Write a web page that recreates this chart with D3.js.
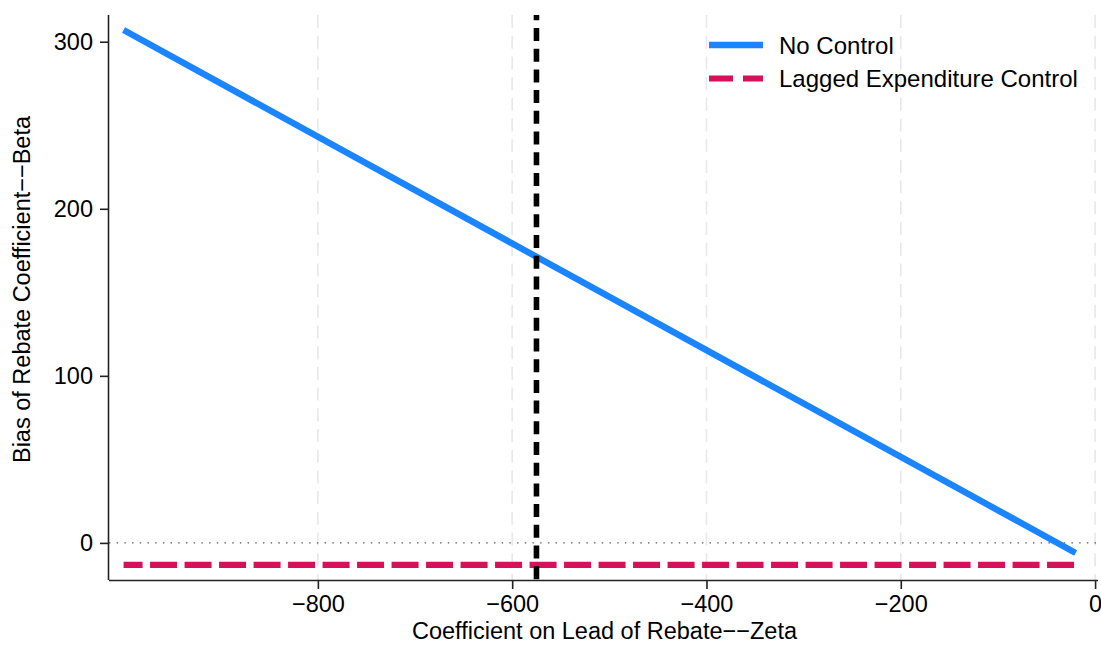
<!DOCTYPE html>
<html>
<head>
<meta charset="utf-8">
<script src="https://cdn.jsdelivr.net/npm/d3@7/dist/d3.min.js"></script>
<style>
  html, body { margin: 0; padding: 0; background: #fff; }
  svg { display: block; font-family: "Liberation Sans", Arial, Helvetica, sans-serif; }
</style>
</head>
<body>
<svg id="chart" width="1101" height="647"></svg>
<script>
// ---- data ----
const zeta = [-1000, -20];
const noControl = [307, -6];
const laggedControl = [-13.2, -13.2];
const zetaMark = -575;
const xTicks = [-800, -600, -400, -200, 0];
const yTicks = [0, 100, 200, 300];
const seriesNames = ["No Control", "Lagged Expenditure Control"];
const xTitle = "Coefficient on Lead of Rebate\u2212\u2212Zeta";
const yTitle = "Bias of Rebate Coefficient\u2212\u2212Beta";

// ---- layout ----
const svg = d3.select("#chart");
const pLeft = 109, pRight = 1098, pTop = 15, pBottom = 580;
const x = d3.scaleLinear().domain([-1015, 3]).range([pLeft, pRight]);
const y = d3.scaleLinear().domain([-22.2, 316]).range([pBottom, pTop]);
const fs = 23.5;
const fmt = d => d < 0 ? "\u2212" + Math.abs(d) : String(d);

// gridlines
svg.append("g").selectAll("line").data(xTicks).join("line")
  .attr("x1", d => x(d)).attr("x2", d => x(d))
  .attr("y1", pTop).attr("y2", pBottom)
  .attr("stroke", "#e8e8e8").attr("stroke-width", 1.6)
  .attr("stroke-dasharray", "13,7.7");

// y = 0 dotted line
svg.append("line")
  .attr("x1", pLeft).attr("x2", pRight)
  .attr("y1", y(0)).attr("y2", y(0))
  .attr("stroke", "#555").attr("stroke-width", 1.4)
  .attr("stroke-dasharray", "1.4,6.3");

// axes
const xAxis = d3.axisBottom(x).tickValues(xTicks).tickFormat(fmt).tickSize(9).tickPadding(6);
const gx = svg.append("g").attr("transform", `translate(0,${pBottom})`).call(xAxis);
gx.select(".domain").attr("d", `M${pLeft},0.5H${pRight}`).attr("stroke", "#222").attr("stroke-width", 1.6);
gx.selectAll(".tick line").attr("stroke", "#222").attr("stroke-width", 1.6);
gx.selectAll(".tick text").attr("font-size", fs).attr("fill", "#000")
  .attr("font-family", "'Liberation Sans', Arial, sans-serif");

const yAxis = d3.axisLeft(y).tickValues(yTicks).tickFormat(fmt).tickSize(9).tickPadding(7);
const gy = svg.append("g").attr("transform", `translate(${pLeft},0)`).call(yAxis);
gy.select(".domain").attr("d", `M-0.5,${pTop}V${pBottom}`).attr("stroke", "#222").attr("stroke-width", 1.6);
gy.selectAll(".tick line").attr("stroke", "#222").attr("stroke-width", 1.6);
gy.selectAll(".tick text").attr("font-size", fs).attr("fill", "#000")
  .attr("font-family", "'Liberation Sans', Arial, sans-serif");

// series lines
const seriesLine = d3.line().x((d, i) => x(zeta[i])).y(d => y(d));
svg.append("path").datum(laggedControl)
  .attr("d", seriesLine).attr("fill", "none")
  .attr("stroke", "#D41159").attr("stroke-width", 6.2)
  .attr("stroke-dasharray", "27,7.5").attr("stroke-dashoffset", 8);
svg.append("path").datum(noControl)
  .attr("d", seriesLine).attr("fill", "none")
  .attr("stroke", "#1A85FF").attr("stroke-width", 6.4);

// vertical reference line
svg.append("line")
  .attr("x1", x(zetaMark)).attr("x2", x(zetaMark))
  .attr("y1", pTop).attr("y2", pBottom)
  .attr("stroke", "#000").attr("stroke-width", 5.6)
  .attr("stroke-dasharray", "13,7.7").attr("stroke-dashoffset", 7.7);

// axis titles
svg.append("text").attr("x", (pLeft + pRight) / 2 + 1).attr("y", 639)
  .attr("text-anchor", "middle").attr("font-size", fs).text(xTitle);
svg.append("text").attr("transform", `translate(30,${(pTop + pBottom) / 2 - 8}) rotate(-90)`)
  .attr("text-anchor", "middle").attr("font-size", fs).text(yTitle);

// legend
const leg = svg.append("g");
leg.append("line").attr("x1", 709).attr("x2", 763).attr("y1", 45).attr("y2", 45)
  .attr("stroke", "#1A85FF").attr("stroke-width", 6.4);
leg.append("line").attr("x1", 709).attr("x2", 763).attr("y1", 78.5).attr("y2", 78.5)
  .attr("stroke", "#D41159").attr("stroke-width", 6.2).attr("stroke-dasharray", "24,10");
leg.append("text").attr("x", 779).attr("y", 53.5).attr("font-size", 24).text(seriesNames[0]);
leg.append("text").attr("x", 779).attr("y", 87).attr("font-size", 24).text(seriesNames[1]);
</script>
</body>
</html>
